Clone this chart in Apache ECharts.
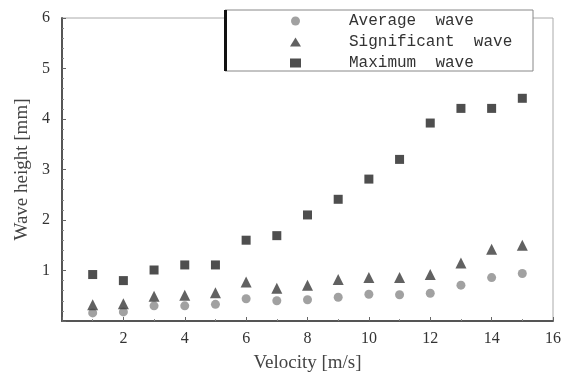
<!DOCTYPE html>
<html>
<head>
<meta charset="utf-8">
<script src="https://cdn.jsdelivr.net/npm/echarts@6/dist/echarts.min.js"></script>
<style>
  html, body { margin: 0; padding: 0; background: #fff; }
  #chart { width: 573px; height: 378px; }
</style>
</head>
<body>
<div id="chart"></div>
<script>
// velocity [m/s]
const velocity = [1, 2, 3, 4, 5, 6, 7, 8, 9, 10, 11, 12, 13, 14, 15];
// wave heights [mm]
const averageWave = [0.16, 0.18, 0.30, 0.30, 0.33, 0.44, 0.40, 0.42, 0.47, 0.53, 0.52, 0.55, 0.71, 0.86, 0.94];
const significantWave = [0.32, 0.34, 0.49, 0.51, 0.56, 0.77, 0.65, 0.71, 0.82, 0.86, 0.86, 0.92, 1.15, 1.42, 1.50];
const maximumWave = [0.92, 0.80, 1.01, 1.11, 1.11, 1.60, 1.69, 2.10, 2.41, 2.81, 3.20, 3.92, 4.21, 4.21, 4.41];

const pairs = (ys) => velocity.map((v, i) => [v, ys[i]]);

const serif = '"Liberation Serif", "DejaVu Serif", serif';
const mono = '"Liberation Mono", "DejaVu Sans Mono", monospace';

const chart = echarts.init(document.getElementById('chart'));

const axisCommon = {
  axisLine: { show: true, lineStyle: { color: '#555', width: 2 } },
  axisTick: { show: true, inside: true, length: 4, lineStyle: { color: '#666' } },
  minorTick: { show: true, splitNumber: 2, length: 2, lineStyle: { color: '#888' } },
  splitLine: { show: false },
  axisLabel: {
    color: '#333',
    fontFamily: serif,
    fontSize: 16,
    formatter: (v) => (v === 0 ? '' : v)
  },
  nameTextStyle: { color: '#444', fontFamily: serif, fontSize: 19 }
};

chart.setOption({
  animation: false,
  backgroundColor: '#fff',
  grid: {
    left: 62, right: 20, top: 18, bottom: 57,
    show: true,
    borderColor: '#aaa',
    borderWidth: 1
  },
  xAxis: {
    ...axisCommon,
    type: 'value',
    min: 0, max: 16, interval: 2,
    name: 'Velocity [m/s]',
    nameLocation: 'middle',
    nameGap: 33,
    axisLabel: { ...axisCommon.axisLabel, margin: 10 }
  },
  yAxis: {
    ...axisCommon,
    type: 'value',
    min: 0, max: 6, interval: 1,
    name: 'Wave height [mm]',
    nameLocation: 'middle',
    nameGap: 27,
    minorTick: { ...axisCommon.minorTick, splitNumber: 5 },
    axisLabel: { ...axisCommon.axisLabel, margin: 12 }
  },
  graphic: [
    {
      type: 'rect',
      z: 5,
      shape: { x: 225, y: 10, width: 308, height: 61 },
      style: { fill: '#fff', stroke: '#888', lineWidth: 1 }
    },
    {
      type: 'rect',
      z: 6,
      shape: { x: 224, y: 10, width: 3, height: 61 },
      style: { fill: '#111' }
    }
  ],
  legend: {
    z: 10,
    orient: 'vertical',
    left: 290,
    top: 13,
    itemGap: 5,
    itemWidth: 11,
    itemHeight: 9,
    padding: 0,
    textStyle: {
      fontFamily: mono,
      fontSize: 16,
      color: '#333',
      padding: [0, 0, 0, 43]
    },
    data: ['Average  wave', 'Significant  wave', 'Maximum  wave']
  },
  series: [
    {
      name: 'Average  wave',
      type: 'scatter',
      symbol: 'circle',
      symbolSize: 9,
      itemStyle: { color: '#8a8a8a' },
      data: pairs(averageWave)
    },
    {
      name: 'Significant  wave',
      type: 'scatter',
      symbol: 'triangle',
      symbolSize: 11,
      itemStyle: { color: '#3a3a3a' },
      data: pairs(significantWave)
    },
    {
      name: 'Maximum  wave',
      type: 'scatter',
      symbol: 'rect',
      symbolSize: 9,
      itemStyle: { color: '#222' },
      data: pairs(maximumWave)
    }
  ]
});
</script>
</body>
</html>
